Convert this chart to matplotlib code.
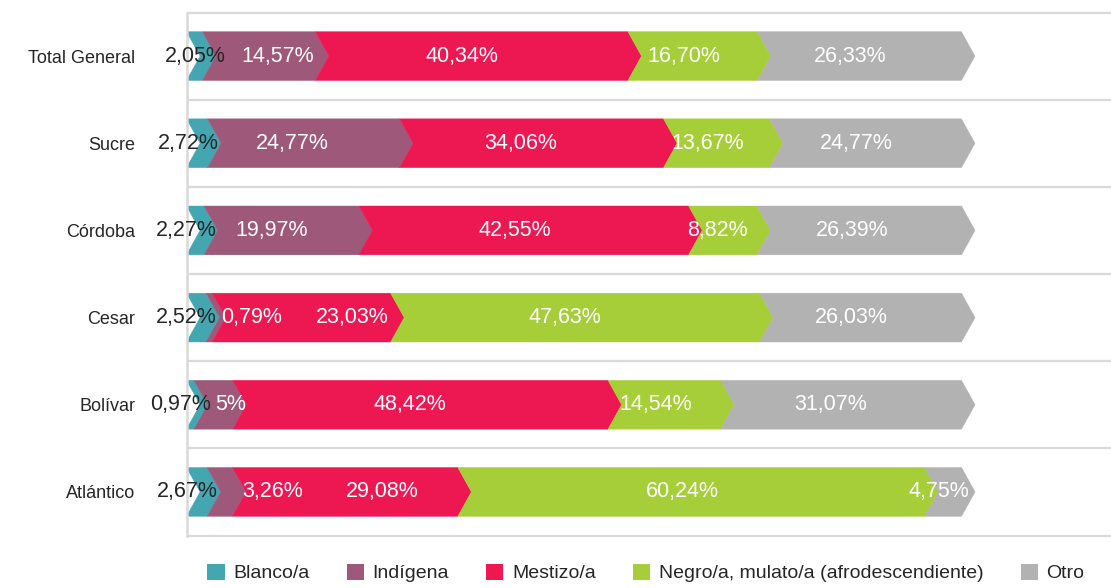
import matplotlib
matplotlib.use('Agg')
import matplotlib.pyplot as plt
from matplotlib.patches import Polygon, Patch
import numpy as np

FONT = ['Liberation Sans Narrow', 'Liberation Sans', 'DejaVu Sans']
plt.rcParams['font.family'] = FONT

categories = ['Total General', 'Sucre', 'Córdoba', 'Cesar', 'Bolívar', 'Atlántico']
series = ['Blanco/a', 'Indígena', 'Mestizo/a',
          'Negro/a, mulato/a (afrodescendiente)', 'Otro']
blanco = [2.05, 2.72, 2.27, 2.52, 0.97, 2.67]
indigena = [14.57, 24.77, 19.97, 0.79, 5.00, 3.26]
mestizo = [40.34, 34.06, 42.55, 23.03, 48.42, 29.08]
negro = [16.70, 13.67, 8.82, 47.63, 14.54, 60.24]
otro = [26.33, 24.77, 26.39, 26.03, 31.07, 4.75]

colors = ['#44A6B0', '#9E587A', '#ED1752', '#A6CE39', '#B2B2B2']
label_colors = ['#262626', 'white', 'white', 'white', 'white']

# label nudges (pixels) relative to the segment centre, per category / series
label_nudge_px = [
    [1, 19, -10, -9, -9],
    [-9, -11, -11, -9, -9],
    [-9, -10, -9, -5, -7],
    [-10, 42, 51, -10, -9],
    [-10, 17, -11, -9, -10],
    [-10, 53, 37, -9, -4],
]

data = [blanco, indigena, mestizo, negro, otro]

W, H = 1111, 588
fig = plt.figure(figsize=(W / 100, H / 100), dpi=100)
ax_left, ax_bottom, ax_top = 186.5, 535.5, 12.5
ax = fig.add_axes([ax_left / W, (H - ax_bottom) / H, 1 - ax_left / W,
                   (ax_bottom - ax_top) / H])

px_per_unit = 7.75
xmax = (W - ax_left) / px_per_unit
ax.set_xlim(0, xmax)
ax.set_ylim(len(categories) - 0.5, -0.5)

# gridlines between categories
ax.hlines(np.arange(-0.5, len(categories)), 0, xmax, colors='#D9D9D9',
          linewidth=1.6, zorder=1, clip_on=False)

h = 0.56
d = 1.75  # chevron depth in data units

def fmt(v):
    if float(v).is_integer():
        return f"{int(v)}%"
    return f"{v:.2f}".replace('.', ',') + '%'

for i, cat in enumerate(categories):
    cum = 0.0
    for j in range(len(series)):
        v = data[j][i]
        x0, x1 = cum, cum + v
        pts = [(x0, i - h / 2), (x1, i - h / 2), (x1 + d, i), (x1, i + h / 2),
               (x0, i + h / 2), (x0 + d, i)]
        ax.add_patch(Polygon(pts, closed=True, facecolor=colors[j],
                             edgecolor=colors[j], linewidth=0.3, zorder=2))
        xc = (x0 + x1) / 2 + label_nudge_px[i][j] / px_per_unit
        ax.text(xc, i, fmt(v), ha='center', va='center', fontsize=15.5,
                color=label_colors[j], zorder=5)
        cum = x1

ax.set_yticks(range(len(categories)))
ax.set_yticklabels(categories, fontsize=13, color='#262626')
ax.tick_params(axis='y', length=0, pad=37)
ax.set_xticks([])
for s in ['top', 'right', 'bottom']:
    ax.spines[s].set_visible(False)
ax.spines['left'].set_color('#D9D9D9')
ax.spines['left'].set_linewidth(1.8)

handles = [Patch(facecolor=c, edgecolor='none') for c in colors]
fig.legend(handles, series, loc='center', bbox_to_anchor=(646 / W, 1 - 573 / H),
           ncol=5, frameon=False, fontsize=14, handlelength=0.88,
           handleheight=0.88, handletextpad=0.46, columnspacing=1.9,
           labelcolor='#262626', borderpad=0, borderaxespad=0)

fig.savefig('out.png', dpi=100, facecolor='white')
